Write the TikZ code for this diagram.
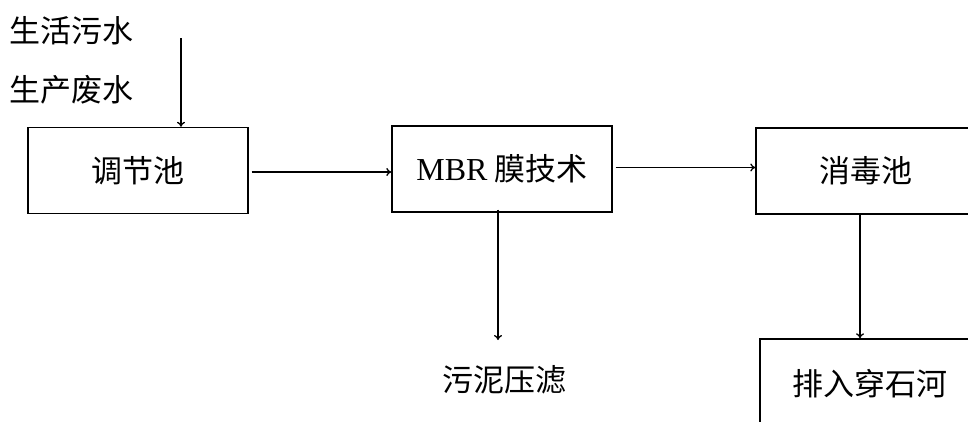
\documentclass[tikz,border=0pt]{standalone}
\usepackage{fontspec}
\setmainfont{Liberation Serif}
\newfontfamily\cjk{Noto Sans CJK SC}
\usetikzlibrary{arrows.meta}
\begin{document}
\begin{tikzpicture}[x=1pt,y=-1pt,
  box/.style={draw,line width=1.4pt,minimum width=220pt,minimum height=86pt,inner sep=0pt,font=\fontsize{31}{36}\selectfont},
  lbl/.style={inner sep=0pt,font=\cjk\fontsize{31}{36}\selectfont},
  flow/.style={line width=1.3pt,-{To[length=5pt,width=8pt]}}]
\useasboundingbox (0,0) rectangle (968,421);
\clip (0,0) rectangle (968,421);
\node[lbl,anchor=west] (t1) at (9,31) {生活污水};
\node[lbl,anchor=west] (t2) at (9,90) {生产废水};
\coordinate (in1) at (181,38);
\node[box] (b1) at (138,170.5) {\cjk 调节池};
\node[box] (b2) at (502,169) {{\fontsize{32}{36}\selectfont MBR}\hspace{7pt}{\cjk 膜技术}};
\node[box] (b3) at (866,171) {\cjk 消毒池};
\node[box,minimum height=90pt] (b4) at (870,384) {\cjk 排入穿石河};
\node[lbl] (t3) at (504,380) {污泥压滤};
\draw[flow] (in1) -- (in1 |- b1.north);
\draw[flow] ([xshift=3pt,yshift=-1.5pt]b1.east) -- ([yshift=-1.5pt]b1.east -| b2.west);
\draw[flow] ([xshift=3pt,yshift=1.5pt]b2.east) -- ([yshift=1.5pt]b2.east -| b3.west);
\draw[flow] ([xshift=-4pt,yshift=3pt]b2.south) -- ([xshift=-4pt]b2.south |- 0,340);
\draw[flow] ([xshift=-6pt]b3.south) -- ([xshift=-6pt]b3.south |- b4.north);
\end{tikzpicture}
\end{document}
